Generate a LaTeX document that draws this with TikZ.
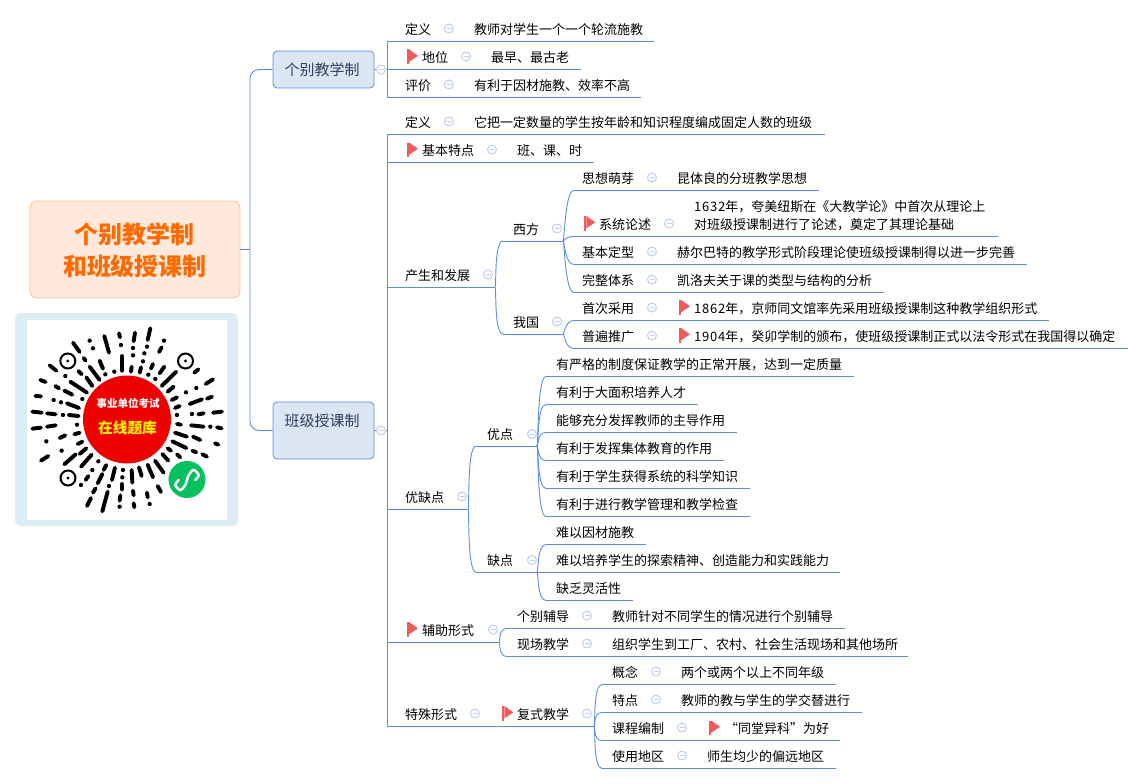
\documentclass[tikz,border=0pt]{standalone}
\usepackage{fontspec}
\setmainfont{Noto Sans CJK SC}
\usetikzlibrary{positioning}

\definecolor{wireblue}{HTML}{5B8FD9}
\definecolor{foldblue}{HTML}{BFCEEC}
\definecolor{topicfill}{HTML}{DCE5F2}
\definecolor{topicink}{HTML}{2F3E5C}
\definecolor{rootfill}{HTML}{FEE9DC}
\definecolor{rootline}{HTML}{F9C493}
\definecolor{rootink}{HTML}{FF6A00}
\definecolor{flagred}{HTML}{F15B5B}
\definecolor{cardblue}{HTML}{DCEDF3}
\definecolor{badgegreen}{HTML}{07C160}

\tikzset{
	wire/.style = {draw = wireblue, line width = 0.9pt},
	curl/.style = {to path = {.. controls +(1.5, 0) and +(-9, 0) .. (\tikztotarget)}},
	txt/.style = {anchor = west, inner sep = 0pt, text = black, font = \fontsize{13}{18}\selectfont},
	leaf/.style = {txt, text height = 13pt, text depth = 2pt},
	fold/.style = {circle, draw = foldblue, line width = 1pt, fill = white, inner sep = 0pt, minimum size = 9pt,
		path picture = {\draw[foldblue, line width = 1pt] ([xshift = -2.5pt] path picture bounding box.center) -- ([xshift = 2.5pt] path picture bounding box.center);}},
	topic/.style = {draw = wireblue, fill = topicfill, rounded corners = 4pt, line width = 0.8pt, minimum width = 101pt,
		inner sep = 0pt, text = topicink, font = \fontsize{15}{18}\selectfont},
	qrbar/.style = {line width = 3.9pt, line cap = round},
	flagmark/.pic = {
		\fill[flagred] (0, 0) rectangle (2.4, 14.5);
		\fill[flagred] (2.4, 0) -- (11.3, 6.3) -- (2.4, 12.3) -- cycle;
	}
}

% one underline of a row, with named ends
\newcommand{\rowline}[4]{
	\coordinate (#1s) at (#2, #4);
	\coordinate (#1e) at (#3, #4);
	\draw[wire] (#1s) -- (#1e);
}

% digits of a year are a little wider in the map
\newcommand{\yeardigits}[1]{{\addfontfeature{LetterSpace=6}#1}}

\begin{document}
\begin{tikzpicture}[x = 1pt, y = -1pt]

	\useasboundingbox (0, 0) rectangle (1144, 784);

	% Root and the two main topics
	\node[draw = rootline, fill = rootfill, rounded corners = 7pt, line width = 0.8pt, minimum width = 210pt, minimum height = 97pt] (root) at (135, 249.5) {};
	\node[align = center, inner sep = 0pt, text = rootink, font = \fontsize{24}{32}\selectfont\bfseries] (rootl) at (135, 250.5) {个别教学制\\和班级授课制};
	\node[topic, minimum height = 37pt] (geren) at (323.5, 69.5) {\hspace*{-3pt}个别教学制};
	\node[topic, minimum height = 57pt] (banji) at (323.5, 430.5) {\hspace*{-3pt}\raisebox{4.5pt}[0pt][0pt]{班级授课制}};

	\coordinate (rootbus) at (250, 249.5);
	\draw[wire] (root.east) -- (rootbus);
	\draw[wire, rounded corners = 9pt] (rootbus) |- (geren.west);
	\draw[wire, rounded corners = 9pt] (rootbus) |- (banji.west);

	% Row lines of the first topic
	\rowline{gdy}{387}{654}{41}
	\rowline{gdw}{387}{581}{69}
	\rowline{gpj}{387}{641}{97}
	\draw[wire] (gdys) -- (gpjs);
	\draw[wire] (geren.east) -- (gdws);

	\node[leaf] (gdyl) at (405, 29) {定义};
	\node[fold] (gdyf) at (449, 28.5) {};
	\node[leaf] (gdyt) at (474, 29) {教师对学生一个一个轮流施教};
	\pic at (406.7, 49.5) {flagmark};
	\node[leaf] (gdwl) at (422, 57) {地位};
	\node[fold] (gdwf) at (466, 56.5) {};
	\node[leaf] (gdwt) at (491, 57) {最早、最古老};
	\node[leaf] (gpjl) at (405, 85) {评价};
	\node[fold] (gpjf) at (449, 84.5) {};
	\node[leaf] (gpjt) at (474, 85) {有利于因材施教、效率不高};
	\node[fold] (gerenf) at (381, 69.5) {};

	% Row lines of the second topic
	\rowline{bdy}{387}{825}{134.5}
	\rowline{btd}{387}{594}{162.5}
	\rowline{bfz}{387}{495}{287.5}
	\rowline{byq}{387}{468}{509}
	\rowline{bfz2}{387}{499}{642}
	\rowline{bts}{387}{594}{726}
	\draw[wire] (bdys) -- (btss);
	\draw[wire] (banji.east) -- (banji.east -| bdys);
	\node[fold] (banjif) at (381, 430.5) {};

	\node[leaf] (bdyl) at (405, 122) {定义};
	\node[fold] (bdyf) at (449, 121.5) {};
	\node[leaf] (bdyt) at (474, 122) {它把一定数量的学生按年龄和知识程度编成固定人数的班级};
	\pic at (406.7, 142.5) {flagmark};
	\node[leaf] (btdl) at (422, 150) {基本特点};
	\node[fold] (btdf) at (492, 149.5) {};
	\node[leaf] (btdt) at (517, 150) {班、课、时};

	% Origin and growth
	\node[leaf] (bfzl) at (405, 275) {产生和发展};
	\node[fold] (bfzf) at (488, 274.5) {};
	\rowline{xf}{503}{563}{241}
	\rowline{wg}{503}{563}{334}
	\draw[wire] (bfze) to[curl] (xfs);
	\draw[wire] (bfze) to[curl] (wgs);
	\node[leaf] (xfl) at (513, 229) {西方};
	\node[fold] (xff) at (557, 228.5) {};
	\node[leaf] (wgl) at (513, 322) {我国};
	\node[fold] (wgf) at (557, 321.5) {};

	\rowline{xa}{574}{819}{190.5}
	\rowline{xb}{574}{998}{236.5}
	\rowline{xc}{574}{1027}{264.5}
	\rowline{xd}{574}{884}{292.5}
	\draw[wire] (xfe) to[curl] (xas);
	\draw[wire] (xfe) to[curl] (xbs);
	\draw[wire] (xfe) to[curl] (xcs);
	\draw[wire] (xfe) to[curl] (xds);
	\rowline{wa}{574}{1049}{320.5}
	\rowline{wb}{574}{1128}{348.5}
	\draw[wire] (wge) to[curl] (was);
	\draw[wire] (wge) to[curl] (wbs);

	\node[leaf] (xal) at (582, 178) {思想萌芽};
	\node[fold] (xaf) at (652, 177.5) {};
	\node[leaf] (xat) at (677, 178) {昆体良的分班教学思想};
	\pic at (584, 216) {flagmark};
	\node[leaf] (xbl) at (599, 224) {系统论述};
	\node[fold] (xbf) at (669, 223.5) {};
	\node[txt, align = left] (xbt) at (694, 215.5) {\yeardigits{1632}年，夸美纽斯在《大教学论》中首次从理论上\\对班级授课制进行了论述，奠定了其理论基础};
	\node[leaf] (xcl) at (582, 252) {基本定型};
	\node[fold] (xcf) at (652, 251.5) {};
	\node[leaf] (xct) at (677, 252) {赫尔巴特的教学形式阶段理论使班级授课制得以进一步完善};
	\node[leaf] (xdl) at (582, 280) {完整体系};
	\node[fold] (xdf) at (652, 279.5) {};
	\node[leaf] (xdt) at (677, 280) {凯洛夫关于课的类型与结构的分析};
	\node[leaf] (wal) at (582, 308) {首次采用};
	\node[fold] (waf) at (652, 307.5) {};
	\pic at (678.7, 300) {flagmark};
	\node[leaf] (wat) at (694, 308) {\yeardigits{1862}年，京师同文馆率先采用班级授课制这种教学组织形式};
	\node[leaf] (wbl) at (582, 336) {普遍推广};
	\node[fold] (wbf) at (652, 335.5) {};
	\pic at (678.7, 328) {flagmark};
	\node[leaf] (wbt) at (694, 336) {\yeardigits{1904}年，癸卯学制的颁布，使班级授课制正式以法令形式在我国得以确定};

	% Merits and faults
	\node[leaf] (byql) at (405, 497) {优缺点};
	\node[fold] (byqf) at (462, 496.5) {};
	\rowline{yd}{476}{537}{446}
	\rowline{qd}{476}{537}{572}
	\draw[wire] (byqe) to[curl] (yds);
	\draw[wire] (byqe) to[curl] (qds);
	\node[leaf] (ydl) at (487, 434) {优点};
	\node[fold] (ydf) at (532, 434) {};
	\node[leaf] (qdl) at (487, 560) {缺点};
	\node[fold] (qdf) at (532, 560) {};

	\rowline{ya}{546}{854}{376.5}
	\rowline{yb}{546}{698}{404.5}
	\rowline{yc}{546}{737}{432.5}
	\rowline{yh}{546}{724}{460.5}
	\rowline{yi}{546}{750}{488.5}
	\rowline{yj}{546}{750}{516.5}
	\draw[wire] (yde) to[curl] (yas);
	\draw[wire] (yde) to[curl] (ybs);
	\draw[wire] (yde) to[curl] (ycs);
	\draw[wire] (yde) to[curl] (yhs);
	\draw[wire] (yde) to[curl] (yis);
	\draw[wire] (yde) to[curl] (yjs);
	\rowline{qa}{546}{646}{544.5}
	\rowline{qb}{537}{840}{572}
	\rowline{qc}{546}{633}{600.5}
	\draw[wire] (qde) to[curl] (qas);
	\draw[wire] (qde) to[curl] (qcs);

	\node[leaf] (yat) at (556, 364) {有严格的制度保证教学的正常开展，达到一定质量};
	\node[leaf] (ybt) at (556, 392) {有利于大面积培养人才};
	\node[leaf] (yct) at (556, 420) {能够充分发挥教师的主导作用};
	\node[leaf] (yht) at (556, 448) {有利于发挥集体教育的作用};
	\node[leaf] (yit) at (556, 476) {有利于学生获得系统的科学知识};
	\node[leaf] (yjt) at (556, 504) {有利于进行教学管理和教学检查};
	\node[leaf] (qat) at (556, 532) {难以因材施教};
	\node[leaf] (qbt) at (556, 560) {难以培养学生的探索精神、创造能力和实践能力};
	\node[leaf] (qct) at (556, 588) {缺乏灵活性};

	% Auxiliary forms
	\pic at (406.7, 622) {flagmark};
	\node[leaf] (fzl) at (422, 630) {辅助形式};
	\node[fold] (fzf) at (493, 629.5) {};
	\rowline{fa}{507}{845}{628.5}
	\rowline{fb}{507}{908}{656.5}
	\draw[wire] (bfz2e) to[curl] (fas);
	\draw[wire] (bfz2e) to[curl] (fbs);
	\node[leaf] (fal) at (517, 616) {个别辅导};
	\node[fold] (faf) at (587, 615.5) {};
	\node[leaf] (fat) at (612, 616) {教师针对不同学生的情况进行个别辅导};
	\node[leaf] (fbl) at (517, 644) {现场教学};
	\node[fold] (fbf) at (587, 643.5) {};
	\node[leaf] (fbt) at (612, 644) {组织学生到工厂、农村、社会生活现场和其他场所};

	% Special forms
	\node[leaf] (tsl) at (405, 714) {特殊形式};
	\node[fold] (tsf) at (475, 713.5) {};
	\pic at (502, 706) {flagmark};
	\node[leaf] (fsl) at (517, 714) {复式教学};
	\node[fold] (fsf) at (587, 713.5) {};
	\rowline{sa}{602}{836}{684.5}
	\rowline{sb}{602}{862}{712.5}
	\rowline{sc}{602}{840}{740.5}
	\rowline{sd}{602}{836}{768.5}
	\draw[wire] (btse) to[curl] (sas);
	\draw[wire] (btse) to[curl] (sbs);
	\draw[wire] (btse) to[curl] (scs);
	\draw[wire] (btse) to[curl] (sds);
	\node[leaf] (sal) at (612, 672) {概念};
	\node[fold] (saf) at (656, 671.5) {};
	\node[leaf] (sat) at (681, 672) {两个或两个以上不同年级};
	\node[leaf] (sbl) at (612, 700) {特点};
	\node[fold] (sbf) at (656, 699.5) {};
	\node[leaf] (sbt) at (681, 700) {教师的教与学生的学交替进行};
	\node[leaf] (scl) at (612, 728) {课程编制};
	\node[fold] (scf) at (682, 727.5) {};
	\pic at (708.7, 720.5) {flagmark};
	\node[leaf] (sct) at (725, 728) {“同堂异科”为好};
	\node[leaf] (sdl) at (612, 756) {使用地区};
	\node[fold] (sdf) at (682, 755.5) {};
	\node[leaf] (sdt) at (707, 756) {师生均少的偏远地区};

	% Mini program code card
	\fill[cardblue, rounded corners = 6pt] (15, 313) rectangle (238, 526);
	\fill[white] (27, 320) rectangle (227, 520);

	% Bars of the code, one quadrant at a time
	\begin{scope}[shift = {(27, 320)}, x = 0.3333pt, y = -0.3333pt]
		\foreach \xa/\ya/\xb/\yb in {138/68/158/96, 232/48/246/98, 276/40/279/52, 285/108/285/152, 68/136/88/152, 170/114/176/122, 218/122/228/146, 154/153/164/163, 188/140/218/180, 130/185/180/218, 178/172/196/198, 40/180/56/186, 85/198/96/205, 112/212/136/224, 25/228/42/229, 120/250/156/264, 16/275/44/278, 60/280/86/283, 125/285/155/288}
			\draw[qrbar] (\xa, \ya) -- (\xb, \yb);
		\foreach \xa/\ya in {188/62, 198/85, 282/75, 115/168, 235/163, 262/155, 166/237, 80/240, 102/247, 108/285}
			\fill (\xa, \ya) circle[radius = 6.5];
	\end{scope}
	\begin{scope}[shift = {(127, 320)}, x = 0.3333pt, y = -0.3333pt]
		\foreach \xa/\ya/\xb/\yb in {24/38/20/64, 70/25/62/60, 104/82/96/96, 14/140/12/155, 42/142/38/158, 78/132/72/146, 112/140/98/160, 148/155/104/198, 214/148/202/158, 258/178/236/192, 140/200/122/215, 150/232/134/240, 225/238/188/252, 255/230/240/236, 158/258/144/264, 230/280/214/283, 285/275/258/278}
			\draw[qrbar] (\xa, \ya) -- (\xb, \yb);
		\foreach \xa/\ya in {111/62, 18/84, 60/80, 18/106, 52/100, 48/124, 64/164, 85/177, 208/204, 177/217, 150/285, 195/282}
			\fill (\xa, \ya) circle[radius = 6.5];
	\end{scope}
	\begin{scope}[shift = {(27, 420)}, x = 0.3333pt, y = -0.3333pt]
		\foreach \xa/\ya/\xb/\yb in {16/26/42/23, 60/20/86/16, 158/38/142/43, 115/46/98/54, 166/65/152/72, 64/108/42/122, 178/85/158/102, 194/104/162/140, 146/103/112/133, 238/135/230/150, 264/143/255/180, 184/168/176/180, 226/162/212/190, 284/192/284/208, 206/205/198/218, 242/215/226/274, 192/234/180/258, 280/226/278/242}
			\draw[qrbar] (\xa, \ya) -- (\xb, \yb);
		\foreach \xa/\ya in {150/14, 58/64, 104/92, 214/124, 196/150, 288/150, 286/172, 162/195, 246/198, 278/260}
			\fill (\xa, \ya) circle[radius = 6.5];
	\end{scope}
	\begin{scope}[shift = {(127, 420)}, x = 0.3333pt, y = -0.3333pt]
		\foreach \xa/\ya/\xb/\yb in {150/12/162/14, 192/16/230/20, 270/22/284/25, 144/38/180/50, 198/50/220/60, 136/64/178/84, 264/70/274/74, 122/85/132/92, 196/92/208/97, 226/103/240/110, 150/103/160/112, 106/102/124/122, 84/122/110/158, 62/134/78/172, 36/142/44/168, 14/150/16/188, 92/198/102/216, 18/212/20/226, 60/218/62/232, 20/250/22/262}
			\draw[qrbar] (\xa, \ya) -- (\xb, \yb);
		\fill (250, 20) circle[radius = 6.5];
		\fill (68, 252) circle[radius = 6.5];
	\end{scope}

	% Finder rings
	\draw[line width = 2pt] (67.8, 361) circle[radius = 7.5];
	\fill (67.8, 361) circle[radius = 1.6];
	\draw[line width = 2pt] (185.5, 361) circle[radius = 7.5];
	\fill (185.5, 361) circle[radius = 1.6];
	\draw[line width = 2pt] (68, 478) circle[radius = 7.5];
	\fill (68, 478) circle[radius = 1.6];

	% Red badge
	\fill[red!93!black] (127, 419.5) circle[radius = 44];
	\node[inner sep = 0pt, text = white, font = \fontsize{10.5}{12}\selectfont\bfseries] (qrtop) at (128, 403) {事业单位考试};
	\node[inner sep = 0pt, text = yellow, font = \fontsize{14.7}{16}\selectfont\bfseries] (qrmid) at (127.5, 428) {在线题库};

	% Green badge
	\fill[badgegreen] (187, 479.5) circle[radius = 18.5];
	\draw[white, line width = 2.5pt, line cap = round] plot[smooth] coordinates {(178.7, 480) (175.3, 485) (180.3, 490) (185.3, 485) (188.7, 475) (193.7, 470) (198.7, 475) (195.3, 480)};

\end{tikzpicture}
\end{document}
